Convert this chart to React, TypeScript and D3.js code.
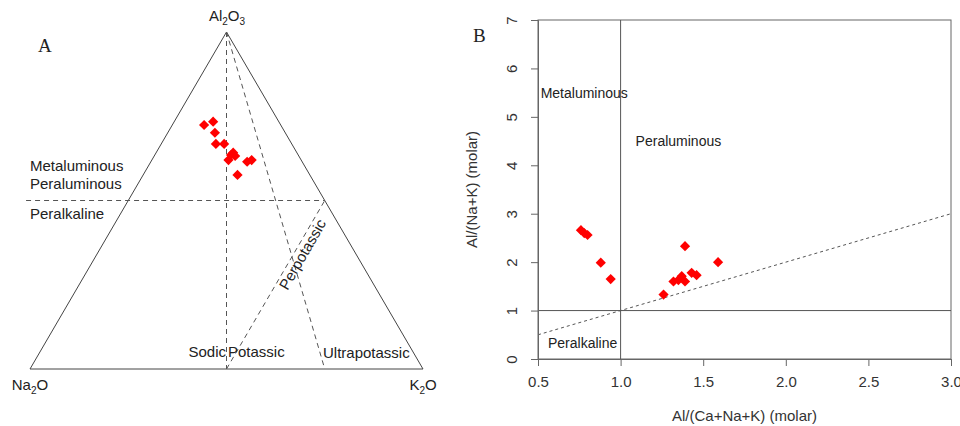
import { useEffect, useRef } from 'react';
import * as d3 from 'd3';

// Panel A: ternary compositions (molar %)
const al2o3 = [72.4, 73.4, 70.1, 66.8, 66.8, 64.2, 62.0, 63.2, 61.5, 62.0, 57.6, 63.5];
const na2o = [19.5, 16.7, 17.9, 19.3, 17.2, 16.2, 18.5, 16.2, 14.0, 12.6, 18.4, 17.1];
const k2o = [8.1, 9.9, 12.0, 13.9, 16.0, 19.6, 19.5, 20.6, 24.5, 25.4, 24.0, 19.4];

// Panel B: A/CNK vs A/NK
const acnk = [0.76, 0.78, 0.8, 0.88, 0.94, 1.26, 1.32, 1.35, 1.37, 1.39, 1.39, 1.43, 1.46, 1.59];
const ank = [2.66, 2.6, 2.56, 1.99, 1.65, 1.33, 1.6, 1.63, 1.71, 1.6, 2.33, 1.78, 1.73, 2.0];

const xTicks = [0.5, 1.0, 1.5, 2.0, 2.5, 3.0];
const yTicks = [0, 1, 2, 3, 4, 5, 6, 7];

// ternary guide lines as [Al, Na, K] pairs
const ternaryGuides: [number[], number[]][] = [
  [[100, 0, 0], [0, 50, 50]],
  [[50, 76, -26], [50, 0, 50]],
  [[0, 50, 50], [50, 0, 50]],
  [[100, 0, 0], [0, 25, 75]],
];

const SANS = '"Liberation Sans", Arial, Helvetica, sans-serif';
const SERIF = '"Liberation Serif", "Times New Roman", serif';

export default function App() {
  const svgRef = useRef<SVGSVGElement>(null);

  useEffect(() => {
    if (!svgRef.current) return;
    const svg = d3.select(svgRef.current);
    svg.selectAll('*').remove();

    const diamond = d3.symbol().type(d3.symbolSquare).size(52);

    // ---------- Panel A: ternary ----------
    const tx = d3.scaleLinear().domain([0, 1]).range([30, 423]);
    const ty = d3.scaleLinear().domain([0, 1]).range([369, 32]);
    const proj = (al: number, k: number) => {
      const a = al / 100;
      const kk = k / 100;
      return [tx(kk + a / 2), ty(a)];
    };

    const A = svg.append('g');
    const tri = [proj(100, 0), proj(0, 0), proj(0, 100)];
    A.append('path')
      .attr('d', d3.line()(tri as [number, number][]) + 'Z')
      .attr('fill', 'none')
      .attr('stroke', '#444')
      .attr('stroke-width', 1);

    ternaryGuides.forEach(([p, q]) => {
      const [x1, y1] = proj(p[0], p[2]);
      const [x2, y2] = proj(q[0], q[2]);
      A.append('line')
        .attr('x1', x1).attr('y1', y1).attr('x2', x2).attr('y2', y2)
        .attr('stroke', '#555')
        .attr('stroke-width', 1)
        .attr('stroke-dasharray', '5,4');
    });

    A.selectAll('path.pt')
      .data(al2o3.map((a, i) => proj(a, k2o[i])))
      .join('path')
      .attr('class', 'pt')
      .attr('d', diamond)
      .attr('transform', d => `translate(${d[0]},${d[1]}) rotate(45)`)
      .attr('fill', '#f00');

    const addText = (x: number, y: number, t: string, anchor = 'start', size = 15) =>
      A.append('text')
        .attr('x', x).attr('y', y)
        .attr('text-anchor', anchor)
        .attr('font-family', SANS)
        .attr('font-size', size)
        .attr('fill', '#222')
        .text(t);

    addText(30, 171, 'Metaluminous');
    addText(30, 189, 'Peraluminous');
    addText(30, 219, 'Peralkaline');
    addText(226, 357, 'Sodic', 'end');
    addText(228, 357, 'Potassic');
    addText(323, 358, 'Ultrapotassic');
    addText(0, 0, 'Perpotassic', 'middle')
      .attr('transform', 'translate(307,257) rotate(-60)')
      .attr('x', 0).attr('y', 0);

    const withSub = (x: number, y: number, parts: [string, boolean][]) => {
      const t = A.append('text')
        .attr('x', x).attr('y', y)
        .attr('text-anchor', 'middle')
        .attr('font-family', SANS)
        .attr('font-size', 15)
        .attr('fill', '#222');
      let down = false;
      parts.forEach(([s, sub]) => {
        const sp = t.append('tspan').text(s);
        if (sub && !down) { sp.attr('dy', 4).attr('font-size', 10); down = true; }
        else if (sub) sp.attr('font-size', 10);
        else if (down) { sp.attr('dy', -4); down = false; }
      });
    };
    withSub(227, 21, [['Al', false], ['2', true], ['O', false], ['3', true]]);
    withSub(30, 390, [['Na', false], ['2', true], ['O', false]]);
    withSub(423, 390, [['K', false], ['2', true], ['O', false]]);

    A.append('text')
      .attr('x', 38).attr('y', 52)
      .attr('font-family', SERIF)
      .attr('font-size', 19)
      .attr('fill', '#222')
      .text('A');

    // ---------- Panel B: Shand ----------
    const x = d3.scaleLinear().domain([0.5, 3]).range([538, 951]);
    const y = d3.scaleLinear().domain([0, 7]).range([359, 20]);
    const B = svg.append('g');

    B.append('rect')
      .attr('x', x(0.5)).attr('y', y(7))
      .attr('width', x(3) - x(0.5)).attr('height', y(0) - y(7))
      .attr('fill', 'none').attr('stroke', '#666');

    B.append('line')
      .attr('x1', x(1)).attr('x2', x(1)).attr('y1', y(0)).attr('y2', y(7))
      .attr('stroke', '#555');
    B.append('line')
      .attr('x1', x(0.5)).attr('x2', x(3)).attr('y1', y(1)).attr('y2', y(1))
      .attr('stroke', '#555');
    B.append('line')
      .attr('x1', x(0.5)).attr('y1', y(0.5)).attr('x2', x(3)).attr('y2', y(3))
      .attr('stroke', '#555').attr('stroke-dasharray', '3,3');

    const xAxis = B.append('g')
      .attr('transform', `translate(0,${y(0)})`)
      .call(d3.axisBottom(x).tickValues(xTicks).tickSize(7).tickPadding(10).tickFormat(d3.format('.1f')));
    xAxis.select('.domain').attr('stroke', '#666');
    xAxis.selectAll('line').attr('stroke', '#666');
    xAxis.selectAll('text').attr('font-family', SANS).attr('font-size', 15).attr('fill', '#333');

    const yAxis = B.append('g')
      .attr('transform', `translate(${x(0.5)},0)`)
      .call(d3.axisLeft(y).tickValues(yTicks).tickSize(7).tickFormat(d3.format('d')));
    yAxis.select('.domain').attr('stroke', '#666');
    yAxis.selectAll('line').attr('stroke', '#666');
    yAxis.selectAll('text')
      .attr('font-family', SANS).attr('font-size', 15).attr('fill', '#333')
      .attr('x', null).attr('dy', null)
      .attr('text-anchor', 'middle')
      .attr('transform', 'translate(-26,0) rotate(-90) translate(0,5)');

    B.append('text')
      .attr('x', (x(0.5) + x(3)) / 2).attr('y', 421)
      .attr('text-anchor', 'middle')
      .attr('font-family', SANS).attr('font-size', 15).attr('fill', '#333')
      .text('Al/(Ca+Na+K) (molar)');
    B.append('text')
      .attr('transform', `translate(477,${(y(0) + y(7)) / 2}) rotate(-90)`)
      .attr('text-anchor', 'middle')
      .attr('font-family', SANS).attr('font-size', 15).attr('fill', '#333')
      .text('Al/(Na+K) (molar)');

    const lab = (xv: number, yv: number, t: string) =>
      B.append('text')
        .attr('x', x(xv)).attr('y', y(yv) + 5)
        .attr('text-anchor', 'middle')
        .attr('font-family', SANS).attr('font-size', 14).attr('fill', '#222')
        .text(t);
    lab(0.78, 5.5, 'Metaluminous');
    lab(1.35, 4.5, 'Peraluminous');
    lab(0.77, 0.33, 'Peralkaline');

    B.selectAll('path.pt')
      .data(acnk.map((v, i) => [v, ank[i]]))
      .join('path')
      .attr('class', 'pt')
      .attr('d', diamond)
      .attr('transform', d => `translate(${x(d[0])},${y(d[1])}) rotate(45)`)
      .attr('fill', '#f00');

    B.append('text')
      .attr('x', 473).attr('y', 42)
      .attr('font-family', SERIF)
      .attr('font-size', 19)
      .attr('fill', '#222')
      .text('B');
  }, []);

  return (
    <svg
      ref={svgRef}
      width={960}
      height={426}
      style={{ position: 'absolute', left: 0, top: 0, background: '#fff' }}
    />
  );
}
